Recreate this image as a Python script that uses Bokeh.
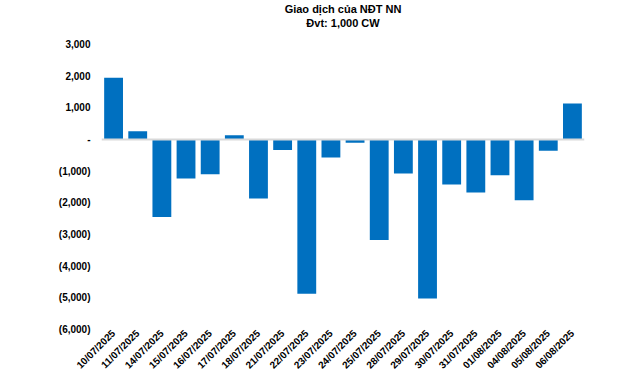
from bokeh.plotting import figure
from bokeh.models import FactorRange, Range1d, FixedTicker, Span, Title, ColumnDataSource
from bokeh.embed import file_html
from bokeh.resources import INLINE
import math

dates = ["10/07/2025", "11/07/2025", "14/07/2025", "15/07/2025", "16/07/2025",
         "17/07/2025", "18/07/2025", "21/07/2025", "22/07/2025", "23/07/2025",
         "24/07/2025", "25/07/2025", "28/07/2025", "29/07/2025", "30/07/2025",
         "31/07/2025", "01/08/2025", "04/08/2025", "05/08/2025", "06/08/2025"]
values = [1950, 260, -2450, -1230, -1100,
          135, -1860, -330, -4870, -570,
          -105, -3170, -1070, -5020, -1420,
          -1670, -1130, -1920, -355, 1140]

y_ticks = [3000, 2000, 1000, 0, -1000, -2000, -3000, -4000, -5000, -6000]
y_tick_labels = ["3,000", "2,000", "1,000", "-", "(1,000)", "(2,000)", "(3,000)",
                 "(4,000)", "(5,000)", "(6,000)"]

title_line1 = "Giao dịch của NĐT NN"
title_line2 = "Đvt: 1,000 CW"

FONT = "Liberation Sans"
BAR = "#0070C0"

src = ColumnDataSource(data=dict(x=dates, top=values))

p = figure(width=633, height=377, x_range=FactorRange(*dates, range_padding=0),
           y_range=Range1d(-6000, 3000), output_backend="svg", toolbar_location=None,
           min_border_left=101, min_border_right=49, min_border_top=44, min_border_bottom=46)

p.title.visible = False
spacer = Title(text=" ", align="center", text_font=FONT, text_font_size="12px",
               text_color="#FFFFFF", standoff=0, offset=0)
t2 = Title(text=title_line2, align="center", text_font=FONT, text_font_size="11px",
           text_font_style="bold", text_color="#000000", standoff=0, offset=0)
t1 = Title(text=title_line1, align="center", text_font=FONT, text_font_size="11px",
           text_font_style="bold", text_color="#000000", standoff=0, offset=0)
p.add_layout(spacer, "above")
p.add_layout(t2, "above")
p.add_layout(t1, "above")

p.vbar(x="x", top="top", bottom=0, width=0.78, source=src, color=BAR, line_color=None)

p.add_layout(Span(location=0, dimension="width", line_color="#D9D9D9", line_width=2))

p.outline_line_color = None
p.xgrid.visible = False
p.ygrid.visible = False

p.yaxis.ticker = FixedTicker(ticks=y_ticks)
p.yaxis.major_label_overrides = {t: lab for t, lab in zip(y_ticks, y_tick_labels)}
p.yaxis.axis_line_color = None
p.yaxis.major_tick_line_color = None
p.yaxis.minor_tick_line_color = None
p.yaxis.major_tick_out = 0
p.yaxis.major_label_standoff = 11
p.yaxis.major_label_text_font = FONT
p.yaxis.major_label_text_font_size = "10px"
p.yaxis.major_label_text_font_style = "bold"
p.yaxis.major_label_text_color = "#000000"

p.xaxis.axis_line_color = None
p.xaxis.major_tick_line_color = None
p.xaxis.minor_tick_line_color = None
p.xaxis.major_tick_out = 0
p.xaxis.major_label_standoff = 2
p.xaxis.major_label_orientation = math.pi / 4
p.xaxis.major_label_text_font = FONT
p.xaxis.major_label_text_font_size = "10px"
p.xaxis.major_label_text_font_style = "bold"
p.xaxis.major_label_text_color = "#000000"

p.background_fill_color = "white"
p.border_fill_color = "white"

open("out.html", "w").write(file_html(p, INLINE))
